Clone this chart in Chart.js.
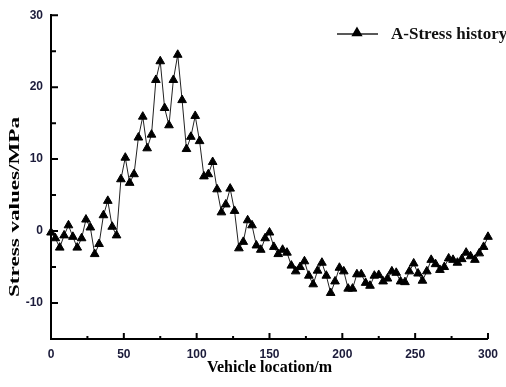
<!DOCTYPE html>
<html>
<head>
<meta charset="utf-8">
<script src="https://cdn.jsdelivr.net/npm/chart.js@4.4.1/dist/chart.umd.min.js"></script>
<style>
  html, body { margin: 0; padding: 0; background: #fff; }
  #wrap { width: 506px; height: 387px; }
</style>
</head>
<body>
<div id="wrap"><canvas id="stressChart" width="506" height="387"></canvas></div>
<script>
// Vehicle location (m) and stress (MPa)
const locations = [
    0, 3, 6, 9, 12, 15, 18, 21, 24, 27, 30, 33, 36, 39, 42, 45, 48, 51, 54, 57,
    60, 63, 66, 69, 72, 75, 78, 81, 84, 87, 90, 93, 96, 99, 102, 105, 108, 111, 114, 117,
    120, 123, 126, 129, 132, 135, 138, 141, 144, 147, 150, 153, 156, 159, 162, 165, 168, 171, 174, 177,
    180, 183, 186, 189, 192, 195, 198, 201, 204, 207, 210, 213, 216, 219, 222, 225, 228, 231, 234, 237,
    240, 243, 246, 249, 252, 255, 258, 261, 264, 267, 270, 273, 276, 279, 282, 285, 288, 291, 294, 297,
    300
];
const stress = [
    -0.2, -1.0, -2.3, -0.6, 0.8, -0.8, -2.3, -1.0, 1.6, 0.5, -3.2, -1.8, 2.2, 4.2, 0.6, -0.6, 7.2, 10.2, 6.7, 7.9,
    13.0, 15.9, 11.5, 13.4, 21.0, 23.6, 17.1, 14.7, 21.0, 24.5, 18.2, 11.4, 13.1, 16.0, 12.5, 7.6, 7.9, 9.6, 5.8, 2.6,
    3.7, 5.9, 2.8, -2.4, -1.5, 1.5, 0.8, -2.0, -2.6, -1.0, -0.2, -2.2, -3.2, -2.6, -3.0, -4.8, -5.6, -5.0, -4.2, -6.2,
    -7.4, -5.5, -4.4, -6.2, -8.6, -7.0, -5.1, -5.6, -8.0, -8.0, -6.0, -6.0, -7.2, -7.6, -6.2, -6.1, -7.0, -6.6, -5.6, -5.8,
    -7.0, -7.1, -5.6, -4.5, -5.9, -6.9, -5.6, -4.0, -4.6, -5.4, -5.0, -3.8, -4.0, -4.4, -3.9, -3.0, -3.5, -4.0, -3.1, -2.2,
    -0.8
];

const xTicks = [0, 50, 100, 150, 200, 250, 300];
const xMinorTicks = [25, 75, 125, 175, 225, 275];
const yTicks = [-10, 0, 10, 20, 30];
const yMinorTicks = [-5, 5, 15, 25];

document.addEventListener('DOMContentLoaded', function() {

    const ctx = document.getElementById('stressChart').getContext('2d');
    const tickColor = '#1b1b3a';

    // ticks pointing into the plot, y title and legend drawn by hand
    const extras = {
        id: 'extras',
        afterDraw(chart) {
            const { ctx, chartArea, scales: { x, y } } = chart;
            ctx.save();
            ctx.strokeStyle = '#000';
            ctx.lineWidth = 2;
            ctx.beginPath();
            xTicks.forEach(v => {
                const px = x.getPixelForValue(v);
                ctx.moveTo(px, chartArea.bottom);
                ctx.lineTo(px, chartArea.bottom - 6);
            });
            xMinorTicks.forEach(v => {
                const px = x.getPixelForValue(v);
                ctx.moveTo(px, chartArea.bottom);
                ctx.lineTo(px, chartArea.bottom - 3);
            });
            yTicks.forEach(v => {
                const py = y.getPixelForValue(v);
                ctx.moveTo(chartArea.left, py);
                ctx.lineTo(chartArea.left + 7, py);
            });
            yMinorTicks.forEach(v => {
                const py = y.getPixelForValue(v);
                ctx.moveTo(chartArea.left, py);
                ctx.lineTo(chartArea.left + 5, py);
            });
            ctx.stroke();

            // y axis title, stretched like the original
            ctx.fillStyle = '#000';
            ctx.font = 'bold 14px "Liberation Serif"';
            ctx.textAlign = 'center';
            ctx.textBaseline = 'middle';
            const yTitle = 'Stress values/MPa';
            const s = 180 / ctx.measureText(yTitle).width;
            ctx.save();
            ctx.translate(15, 207);
            ctx.rotate(-Math.PI / 2);
            ctx.scale(s, 1);
            ctx.fillText(yTitle, 0, 0);
            ctx.restore();

            // legend
            const ds = chart.data.datasets[0];
            ctx.strokeStyle = ds.borderColor;
            ctx.lineWidth = 1.5;
            ctx.beginPath();
            ctx.moveTo(337, 34);
            ctx.lineTo(378, 34);
            ctx.stroke();
            ctx.fillStyle = '#000';
            ctx.strokeStyle = '#000';
            Chart.helpers.drawPoint(ctx, { pointStyle: 'triangle', radius: 5, borderWidth: 1, rotation: 0 }, 357, 33);
            ctx.font = 'bold 17px "Liberation Serif"';
            ctx.textAlign = 'left';
            ctx.fillStyle = '#111';
            ctx.fillText(ds.label, 391, 35);
            ctx.restore();
        }
    };

    const stressChart = new Chart(ctx, {
        type: 'line',
        data: {
            datasets: [{
                label: 'A-Stress history',
                data: locations.map((loc, i) => ({ x: loc, y: stress[i] })),
                borderColor: '#222',
                borderWidth: 1,
                pointStyle: 'triangle',
                pointRadius: 5,
                pointBackgroundColor: '#000',
                pointBorderColor: '#000',
                pointBorderWidth: 1,
                tension: 0,
                clip: false
            }]
        },
        options: {
            responsive: false,
            animation: false,
            layout: {
                padding: { left: 0, right: 15, top: 12, bottom: 0 }
            },
            scales: {
                x: {
                    type: 'linear',
                    min: 0,
                    max: 300,
                    afterBuildTicks: scale => { scale.ticks = xTicks.map(v => ({ value: v })); },
                    afterFit: scale => { scale.height = 48; },
                    grid: { display: false, drawTicks: false },
                    border: { display: true, color: '#000', width: 2 },
                    ticks: {
                        padding: 8,
                        color: tickColor,
                        maxRotation: 0,
                        font: { family: 'Liberation Sans', size: 12, weight: 'bold' }
                    },
                    title: {
                        display: true,
                        text: 'Vehicle location/m',
                        color: '#000',
                        padding: { top: 0, bottom: 10 },
                        font: { family: 'Liberation Serif', size: 16, weight: 'bold' }
                    }
                },
                y: {
                    min: -15,
                    max: 30,
                    afterBuildTicks: scale => { scale.ticks = yTicks.map(v => ({ value: v })); },
                    afterFit: scale => { scale.width = 51; },
                    grid: { display: false, drawTicks: false },
                    border: { display: true, color: '#000', width: 2 },
                    ticks: {
                        padding: 8,
                        color: tickColor,
                        font: { family: 'Liberation Sans', size: 12, weight: 'bold' }
                    }
                }
            },
            plugins: {
                legend: { display: false },
                tooltip: { enabled: false }
            }
        },
        plugins: [extras]
    });
});
</script>
</body>
</html>
